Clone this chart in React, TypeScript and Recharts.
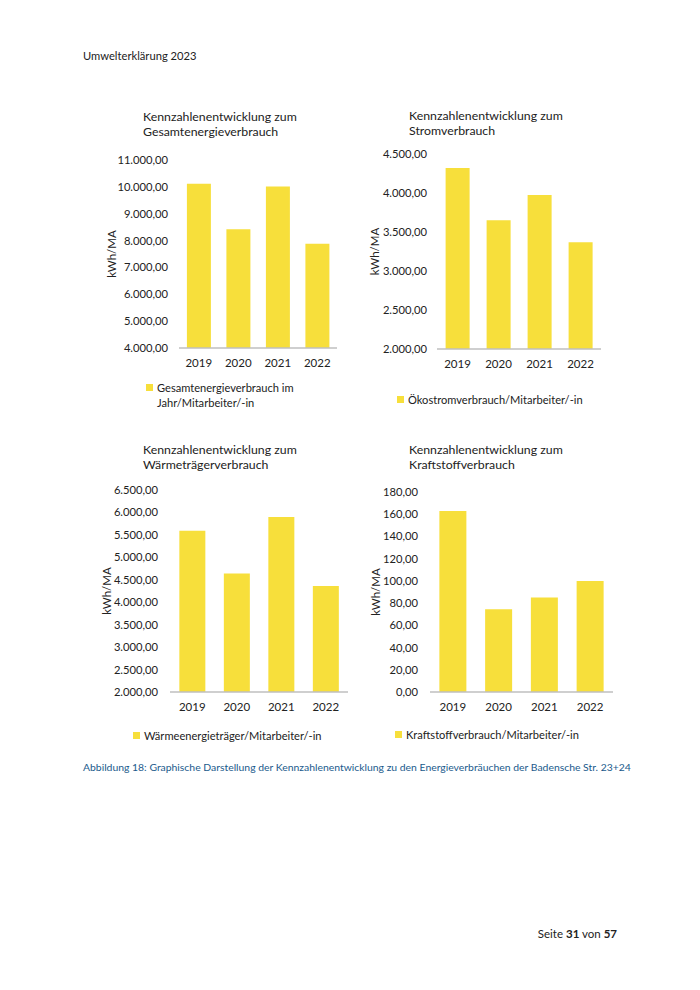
import React from 'react';
import { BarChart, Bar, XAxis, YAxis } from 'recharts';

const years = ['2019', '2020', '2021', '2022'];

const gesamtValues = [10120, 8420, 10010, 7880];
const stromValues = [4320, 3650, 3975, 3370];
const waermeValues = [5590, 4640, 5900, 4360];
const kraftValues = [163, 74.5, 85, 100];

const gesamtTicks = [4000, 5000, 6000, 7000, 8000, 9000, 10000, 11000];
const stromTicks = [2000, 2500, 3000, 3500, 4000, 4500];
const waermeTicks = [2000, 2500, 3000, 3500, 4000, 4500, 5000, 5500, 6000, 6500];
const kraftTicks = [0, 20, 40, 60, 80, 100, 120, 140, 160, 180];

const gesamtTitle = ['Kennzahlenentwicklung zum', 'Gesamtenergieverbrauch'];
const stromTitle = ['Kennzahlenentwicklung zum', 'Stromverbrauch'];
const waermeTitle = ['Kennzahlenentwicklung zum', 'Wärmeträgerverbrauch'];
const kraftTitle = ['Kennzahlenentwicklung zum', 'Kraftstoffverbrauch'];

const gesamtLegend = ['Gesamtenergieverbrauch im', 'Jahr/Mitarbeiter/-in'];
const stromLegend = ['Ökostromverbrauch/Mitarbeiter/-in'];
const waermeLegend = ['Wärmeenergieträger/Mitarbeiter/-in'];
const kraftLegend = ['Kraftstoffverbrauch/Mitarbeiter/-in'];

const unitLabel = 'kWh/MA';

const FONT = 'Lato, "Noto Sans", sans-serif';
const TEXT = '#222222';
const BAR = '#F7DF3B';

function deFormat(v: number): string {
  const fixed = v.toFixed(2);
  const [i, d] = fixed.split('.');
  return i.replace(/\B(?=(\d{3})+(?!\d))/g, '.') + ',' + d;
}

type PanelProps = {
  values: number[];
  ticks: number[];
  title: string[];
  legend: string[];
  left: number;
  top: number;
  width: number;
  height: number;
  margin: { top: number; right: number; left: number; bottom: number };
  yWidth: number;
  tickMargin: number;
  labelOffset: number;
  gap: string;
  titleLeft: number;
  titleTop: number;
  legendLeft: number;
  legendTop: number;
};

function Panel(p: PanelProps) {
  const data = years.map((y, i) => ({ year: y, value: p.values[i] }));
  return (
    <>
      <div
        style={{
          position: 'absolute',
          left: p.titleLeft,
          top: p.titleTop,
          fontFamily: FONT,
          fontSize: 12.3,
          lineHeight: '15px',
          color: TEXT,
          whiteSpace: 'nowrap',
        }}
      >
        {p.title.map((t) => (
          <div key={t}>{t}</div>
        ))}
      </div>
      <div style={{ position: 'absolute', left: p.left, top: p.top }}>
        <BarChart
          width={p.width}
          height={p.height}
          data={data}
          margin={p.margin}
          barCategoryGap={p.gap}
        >
          <XAxis
            dataKey="year"
            tickLine={false}
            tickSize={0}
            tickMargin={11}
            height={30}
            axisLine={{ stroke: '#bfbfbf', strokeWidth: 1.5 }}
            tick={{ fill: TEXT, fontSize: 11.5, fontFamily: FONT }}
            interval={0}
          />
          <YAxis
            type="number"
            domain={[p.ticks[0], p.ticks[p.ticks.length - 1]]}
            ticks={p.ticks}
            interval={0}
            width={p.yWidth}
            axisLine={false}
            tickLine={false}
            tickSize={0}
            tickMargin={p.tickMargin}
            tickFormatter={deFormat}
            tick={{ fill: TEXT, fontSize: 11.2, fontFamily: FONT }}
            label={{
              value: unitLabel,
              angle: -90,
              position: 'insideLeft',
              offset: p.labelOffset,
              style: { textAnchor: 'middle', fill: TEXT, fontSize: 11.5, fontFamily: FONT },
            }}
          />
          <Bar dataKey="value" fill={BAR} isAnimationActive={false} />
        </BarChart>
      </div>
      <div
        style={{
          position: 'absolute',
          left: p.legendLeft,
          top: p.legendTop,
          fontFamily: FONT,
          fontSize: 11.1,
          lineHeight: '15px',
          color: TEXT,
          whiteSpace: 'nowrap',
          display: 'flex',
          alignItems: 'flex-start',
        }}
      >
        <div style={{ width: 7, height: 7, background: BAR, marginTop: 4, marginRight: 4 }} />
        <div>
          {p.legend.map((t) => (
            <div key={t}>{t}</div>
          ))}
        </div>
      </div>
    </>
  );
}

export default function App() {
  return (
    <div
      style={{
        position: 'absolute',
        left: 0,
        top: 0,
        width: 700,
        height: 990,
        background: '#ffffff',
        fontFamily: FONT,
      }}
    >
      <div style={{ position: 'absolute', left: 83, top: 49, fontSize: 11.2, color: TEXT }}>
        Umwelterklärung 2023
      </div>

      <Panel
        values={gesamtValues}
        ticks={gesamtTicks}
        title={gesamtTitle}
        legend={gesamtLegend}
        left={100}
        top={140}
        width={250}
        height={240}
        margin={{ top: 20, right: 13, left: 0, bottom: 2 }}
        yWidth={79}
        tickMargin={11}
        labelOffset={12}
        gap="20%"
        titleLeft={143}
        titleTop={109}
        legendLeft={146}
        legendTop={380}
      />
      <Panel
        values={stromValues}
        ticks={stromTicks}
        title={stromTitle}
        legend={stromLegend}
        left={360}
        top={140}
        width={260}
        height={241}
        margin={{ top: 14, right: 19, left: 0, bottom: 2 }}
        yWidth={77}
        tickMargin={10}
        labelOffset={15}
        gap="21%"
        titleLeft={409}
        titleTop={108}
        legendLeft={397}
        legendTop={392}
      />
      <Panel
        values={waermeValues}
        ticks={waermeTicks}
        title={waermeTitle}
        legend={waermeLegend}
        left={100}
        top={470}
        width={260}
        height={254}
        margin={{ top: 20, right: 12, left: 0, bottom: 2 }}
        yWidth={70}
        tickMargin={12}
        labelOffset={7}
        gap="21%"
        titleLeft={143}
        titleTop={442}
        legendLeft={133}
        legendTop={728}
      />
      <Panel
        values={kraftValues}
        ticks={kraftTicks}
        title={kraftTitle}
        legend={kraftLegend}
        left={360}
        top={470}
        width={260}
        height={254}
        margin={{ top: 22, right: 7, left: 0, bottom: 2 }}
        yWidth={70}
        tickMargin={12}
        labelOffset={16}
        gap="20.5%"
        titleLeft={409}
        titleTop={442}
        legendLeft={395}
        legendTop={727}
      />

      <div
        style={{
          position: 'absolute',
          left: 83,
          top: 761,
          fontSize: 10.4,
          color: '#1A5A8C',
          whiteSpace: 'nowrap',
        }}
      >
        Abbildung 18: Graphische Darstellung der Kennzahlenentwicklung zu den Energieverbräuchen der Badensche Str. 23+24
      </div>

      <div
        style={{
          position: 'absolute',
          right: 83,
          top: 927,
          fontSize: 11.5,
          color: TEXT,
          whiteSpace: 'nowrap',
        }}
      >
        Seite <b>31</b> von <b>57</b>
      </div>
    </div>
  );
}
